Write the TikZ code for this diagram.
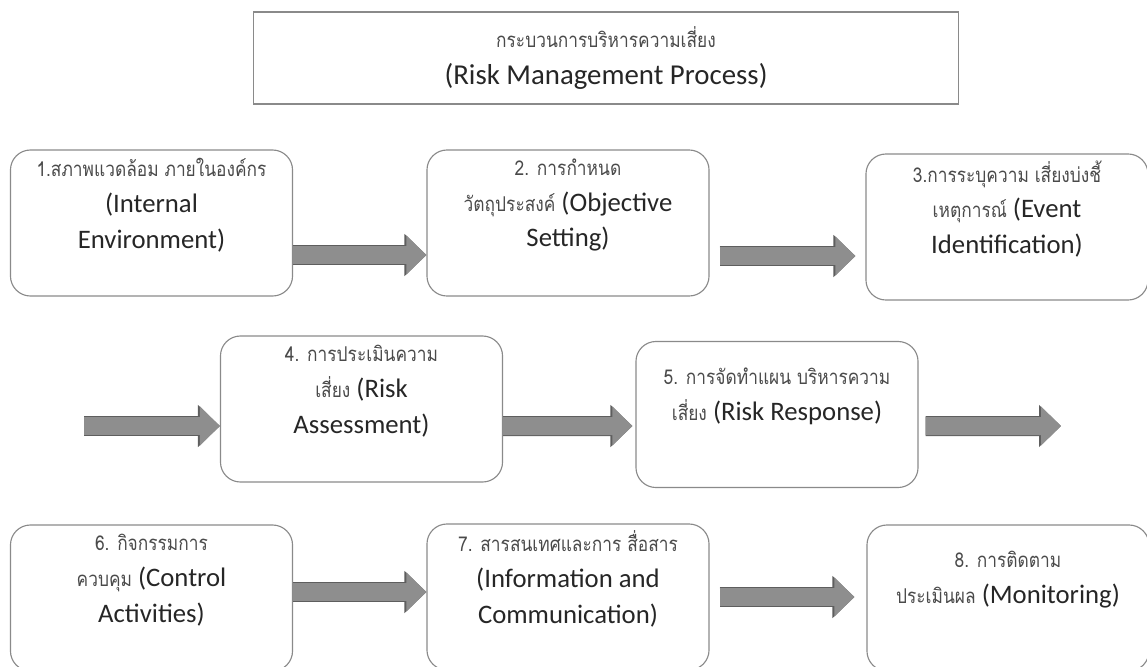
\documentclass[tikz,border=0pt]{standalone}
\usepackage{fontspec}
\usepackage{xcolor}
\usepackage{tikz}
\usetikzlibrary{arrows.meta}
\setmainfont{Carlito}
\newfontfamily\thaifont[Script=Thai, FakeStretch=0.85]{Loma}
\definecolor{linegray}{HTML}{8A8A8A}
\definecolor{arrowgray}{HTML}{8E8E8E}
\definecolor{arrowedge}{HTML}{5E5E5E}
\definecolor{thaigray}{HTML}{4A4A4A}
\definecolor{textblack}{HTML}{262626}
\newcommand{\thai}[1]{{\thaifont\fontsize{14.5}{20}\selectfont\color{thaigray}#1}}

\begin{document}
\begin{tikzpicture}[
    x=0.025cm, y=-0.025cm,
    stepbox/.style={rectangle, draw=linegray, line width=0.8pt, rounded corners=0.5cm,
        minimum width=7.05cm, minimum height=3.65cm},
    txt/.style={align=center, text=textblack, yshift=0.45cm,
        font=\fontsize{19}{25.5}\selectfont},
    blk/.style={line width=0.45cm, draw=arrowgray,
        -{Triangle[length=0.5cm, width=0.95cm]},
        preaction={draw=arrowedge, line width=0.5cm,
            -{Triangle[length=0.55cm, width=1.02cm]}}}
]
    \path[use as bounding box, clip] (0,0) rectangle (1147,666);

    \node[rectangle, draw=linegray, line width=0.8pt, minimum width=17.6cm,
        minimum height=2.3cm, align=center, text=textblack,
        font=\fontsize{20.5}{26}\selectfont] (title) at (606,58)
        {\thai{กระบวนการบริหารความเสี่ยง}\\(Risk Management Process)};

    % row 1
    \node[stepbox, label={[txt]center:{\thai{1.สภาพแวดล้อม ภายในองค์กร}\\(Internal\\Environment)}}] (b1) at (151.5,223) {};
    \node[stepbox, label={[txt]center:{\thai{2. การกำหนด}\\\thai{วัตถุประสงค์} (Objective\\Setting)}}] (b2) at (568,223) {};
    \node[stepbox, label={[txt]center:{\thai{3.การระบุความ เสี่ยงบ่งชี้}\\\thai{เหตุการณ์} (Event\\Identification)}}] (b3) at (1007,227) {};

    % row 2
    \node[stepbox, label={[txt]center:{\thai{4. การประเมินความ}\\\thai{เสี่ยง} (Risk\\Assessment)}}] (b4) at (361.5,409) {};
    \node[stepbox, label={[txt]center:{\thai{5. การจัดทำแผน บริหารความ}\\\thai{เสี่ยง} (Risk Response)}}] (b5) at (777,414.5) {};

    % row 3
    \node[stepbox, label={[txt]center:{\thai{6. กิจกรรมการ}\\\thai{ควบคุม} (Control\\Activities)}}] (b6) at (151.5,598) {};
    \node[stepbox, label={[txt]center:{\thai{7. สารสนเทศและการ สื่อสาร}\\(Information and\\Communication)}}] (b7) at (568,597) {};
    \node[stepbox, label={[txt]center:{\thai{8. การติดตาม}\\\thai{ประเมินผล} (Monitoring)}}] (b8) at (1008,598) {};

    \coordinate (in4) at (84,426);
    \coordinate (out5) at (1061,426);

    \draw[blk] ([shift={(0,32)}]b1.east) -- ([shift={(0,32)}]b2.west);
    \draw[blk] ([shift={(10,33)}]b2.east) -- ([shift={(-10,29)}]b3.west);
    \draw[blk] (in4) -- (b4.west |- in4);
    \draw[blk] ([shift={(0,17)}]b4.east) -- ([shift={(-3,11.5)}]b5.west);
    \draw[blk] ([shift={(7,11.5)}]b5.east) -- (out5);
    \draw[blk] ([shift={(0,-6)}]b6.east) -- ([shift={(0,-5)}]b7.west);
    \draw[blk] ([shift={(10,0)}]b7.east) -- ([shift={(-12,-1)}]b8.west);
\end{tikzpicture}
\end{document}
